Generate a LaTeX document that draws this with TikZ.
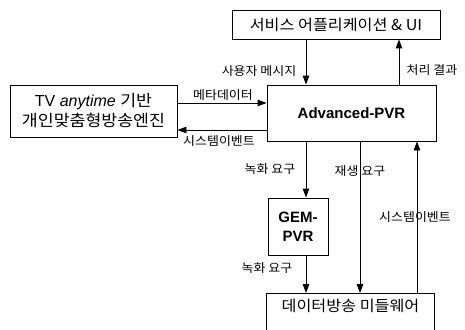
\documentclass[tikz,border=0pt]{standalone}
\usepackage{fontspec}
\setmainfont{Liberation Sans}
\newfontfamily\kr{Noto Sans CJK KR}[FakeStretch=1.08]
\usetikzlibrary{arrows.meta}

\begin{document}
\begin{tikzpicture}[x=1pt, y=-1pt, >={Triangle[length=9pt, width=6.5pt]},
    box/.style={draw, line width=0.9pt, inner sep=0pt, align=center},
    lbl/.style={font=\kr\fontsize{12}{14}\selectfont, inner sep=0pt},
    flow/.style={->, line width=0.9pt}]
  \useasboundingbox (0,0) rectangle (465,329);
  \clip (0,0) rectangle (465,329);

  % boxes
  \node[box, minimum width=208pt, minimum height=29pt, font=\kr\fontsize{15}{17}\selectfont]
    (svc) at (336,24.5) {서비스 어플리케이션 \& UI};
  \node[box, minimum width=169pt, minimum height=56pt, font=\bfseries\fontsize{15}{17}\selectfont]
    (apvr) at (351.5,113) {Advanced-PVR};
  \node[box, minimum width=167pt, minimum height=52pt, font=\fontsize{16}{20}\selectfont]
    (tva) at (93.5,111) {TV \textit{anytime} {\kr 기반}\\{\kr 개인맞춤형방송엔진}};
  \node[box, minimum width=60pt, minimum height=57pt, font=\bfseries\fontsize{15}{19}\selectfont]
    (gem) at (298,226.5) {GEM-\\PVR};
  \node[minimum width=167pt, minimum height=26pt, anchor=north, font=\kr\fontsize{15}{17}\selectfont]
    (mw) at (350.5,293) {데이터방송 미들웨어};
  \draw[line width=0.9pt] ([yshift=-20pt]mw.south west) -- (mw.north west)
    -- (mw.north east) -- ([yshift=-20pt]mw.south east);

  % connector positions
  \coordinate (xa) at (306,0);
  \coordinate (xb) at (399,0);
  \coordinate (xc) at (360,0);
  \coordinate (xd) at (417,0);
  \coordinate (ya) at (0,103);
  \coordinate (yb) at (0,130);

  \draw[flow] (xa |- svc.south) -- (xa |- apvr.north);
  \draw[flow] (xb |- apvr.north) -- (xb |- svc.south);
  \draw[flow] (tva.east |- ya) -- (apvr.west |- ya);
  \draw[flow] (apvr.west |- yb) -- (tva.east |- yb);
  \draw[flow] (xa |- apvr.south) -- (xa |- gem.north);
  \draw[flow] (xa |- gem.south) -- (xa |- mw.north);
  \draw[flow] (xc |- apvr.south) -- (xc |- mw.north);
  \draw[flow] (xd |- mw.north) -- (xd |- apvr.south);

  % labels
  \node[lbl] (l-usr) at (259,71) {사용자 메시지};
  \node[lbl] (l-res) at (432,70) {처리 결과};
  \node[lbl] (l-meta) at (223,95) {메타데이터};
  \node[lbl] (l-sys1) at (219,141) {시스템이벤트};
  \node[lbl] (l-rec1) at (270,169) {녹화 요구};
  \node[lbl] (l-play) at (360,171) {재생 요구};
  \node[lbl] (l-sys2) at (415,217) {시스템이벤트};
  \node[lbl] (l-rec2) at (267,268) {녹화 요구};
\end{tikzpicture}
\end{document}
